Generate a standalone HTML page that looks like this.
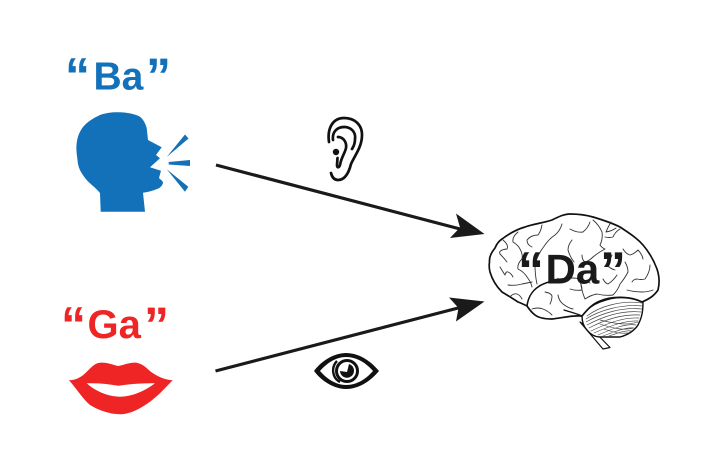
<!DOCTYPE html>
<html>
<head>
<meta charset="utf-8">
<style>
html,body{margin:0;padding:0;background:#fff;width:702px;height:462px;overflow:hidden}
svg{display:block}
text{font-family:"Liberation Sans",sans-serif;font-weight:bold}
</style>
</head>
<body>
<svg width="702" height="462" viewBox="0 0 702 462" xmlns="http://www.w3.org/2000/svg">
<!-- labels -->
<g fill="#1271b8">
<text x="93.5" y="89.5" font-size="39">Ba</text>
<text x="65" y="93" font-size="50">“</text>
<text x="146" y="93" font-size="50">”</text>
</g>
<g fill="#ee2524">
<text x="87.5" y="338" font-size="40">Ga</text>
<text x="61" y="342" font-size="50">“</text>
<text x="144" y="342" font-size="50">”</text>
</g>

<!-- head -->
<path fill="#1271b8" d="M100.7 211.7 L100 193 C95 187 90 184 86.7 180 C81 173 78 168 77.5 160 C76.5 152 76 148 76.7 143 C77.5 136 80 131 83 127 C88 121 94 118 100 115 C107 112.5 113 112 120 112.3 C128 112.5 135 114 140 116.7 C144 120 145.5 124 146.7 128 L148 140 L161.7 147.3 L156 155 L160 158.3 L150 167.3 L161 170.7 L159 178 C161 180 163 181 163 183 C162 186 160 188 157 189 C152 191 148 192 143 192.7 L145 211.7 Z"/>
<path fill="#1271b8" d="M166.7 157 L185 134.5 L188.5 138.5 Z M168.7 162 L190 160 L190 166 L168.7 164.5 Z M166.7 169.3 L188.3 186.7 L185 191.7 Z"/>

<!-- lips -->
<path fill="#ee2524" fill-rule="evenodd" d="M69 380.3 C76 380 79 378 83.3 375 C90 369 94 363 100 362.7 C107 362 113 365 118.3 366 C124 365 130 362 136.7 362.7 C144 364 148 370 153 373.3 C159 377 165 380 172.7 380.3 C165 388 158 396 150 401.7 C140 409 130 414 120 414.3 C110 414 100 411 90 405 C82 398 76 388 69 380.3 Z M86.7 383.3 C98 383 108 384 118.3 385.7 C130 384 143 383 155 383.3 C145 391 132 396.7 120 396.7 C108 396.7 95 391 86.7 383.3 Z"/>

<!-- arrows -->
<line x1="216" y1="165" x2="462" y2="229.5" stroke="#1a1a1a" stroke-width="3.2"/>
<path fill="#1a1a1a" d="M484.5 234 L456 213.5 L460 227.5 L450 238 Z"/>
<line x1="215.5" y1="371" x2="462" y2="307" stroke="#1a1a1a" stroke-width="3.2"/>
<path fill="#1a1a1a" d="M484.5 301.5 L449 297.5 L458.5 308 L456 321.5 Z"/>

<!-- ear -->
<g fill="none" stroke="#111" stroke-width="2.7" stroke-linecap="round" stroke-linejoin="round">
<path d="M329 142 C327 128 333 118 344 118 C355 118 362 125 362 135 C362 147 355 155 351 164 C349 172 345 180 338 180 C334 180 332 177 331 173"/>
<path d="M333 140 C332 132 337 127 344 127 C351 127 356 132 355 139 C355 143 354 146 352 149"/>
<path d="M338 137 C343 137 347 142 346 148 C345 153 341 158 340 165 C339 168 337 168 337 165 L337.5 158"/>
</g>
<circle cx="336" cy="152" r="3.2" fill="#111"/>

<!-- eye -->
<path fill="#111" fill-rule="evenodd" d="M314 371 C322 360 335 353 346 353 C358 353 370 360 379 371 C370 382 358 389 346 389 C335 389 322 382 314 371 Z M320 371 C327 379 336 385 346 385 C357 385 366 379 373 371 C366 363 357 357 346 357 C336 357 327 363 320 371 Z"/>
<path fill="none" stroke="#111" stroke-width="2.4" d="M337 361 C331 367 332 378 340 382"/>
<circle cx="347" cy="371" r="10.5" fill="none" stroke="#111" stroke-width="3"/>
<path fill="#111" d="M349 364 A7 7 0 1 1 340 371 L347 372 Z"/>

<!-- brain -->
<g fill="none" stroke-linecap="round" stroke-linejoin="round">
<path fill="#fff" stroke="#111" stroke-width="1.2" d="M580 322 L603 349 L610 347.5 L594 331 Z"/>
<path fill="#fff" stroke="#111" stroke-width="1.4" d="M582 316 C582 322 584 327 587 330 C591 335 596 337 600 337 L620 337 C628 335 635 330 638 325 C641 319 643 314 643 302 C630 296 615 296 600 302 C592 305 586 310 582 316 Z"/>
<path fill="#fff" stroke="#111" stroke-width="1.7" d="M489.5 262 C489 256 492 252 495 248 C497 243 499 241 502 239 C510 233 518 229 525 227 C533 224 543 223 552 220 C558 217 564 214 570 214 C578 214 586 215 593 217 C603 220 612 223 620 227 C629 233 637 238 643 245 C649 252 654 261 657 269 C659 275 660 282 658 290 C654 296 649 299 642 302 C630 296 612 296 600 301 C592 304 587 310 582 316 C572 315 562 318 552 319 C545 319 539 318 535 315 C531 312 529 309 527 306 C523 304 521 303 518 302 C512 298 507 295 502 292 C496 286 492 279 490 272 C489 268 489 265 489.5 262 Z"/>
<path stroke="#111" stroke-width="1.6" d="M527 306 C528 298 532 291 538 287 C543 283 550 282 558 279"/>
<path stroke="#111" stroke-width="1.3" d="M582 316 C575 313 570 312 564 310"/>
<path stroke="#333" stroke-width="0.9" d="M503 240 Q509 245 507 249 Q498 250 500 254 Q504 258 507 262 M518 232 Q512 237 513 242 Q518 245 520 249 Q523 254 522 259 Q517 264 518 269 Q524 272 527 277 Q531 282 532 287 M500 267 Q503 272 505 275 Q506 271 508 272 Q511 273 513 277 M508 285 Q515 286 522 284 Q527 283 532 282 M510 297 Q513 293 517 294 Q520 295 522 299 M542 225 Q541 231 538 235 Q531 235 527 240 Q527 245 532 247 M562 224 Q560 231 555 235 Q549 239 545 245 Q537 255 535 265 Q535 275 537 284 M558 295 Q559 301 563 304 Q568 308 573 309 M532 309 Q538 307 543 309 Q548 311 552 315 M570 229 Q577 233 583 232 Q588 228 590 222 M593 220 Q599 225 602 232 Q603 239 600 245 Q602 248 605 249 M620 229 Q615 232 613 237 Q609 238 605 237 M582 255 Q582 260 585 262 Q589 261 593 257 Q599 252 605 249 M623 249 Q626 254 630 255 Q634 254 638 250 Q642 254 643 259 M632 282 Q634 279 637 279 Q641 280 645 279 Q650 272 650 265 M580 277 Q581 290 585 299 Q591 295 597 294 Q605 296 613 295 Q618 290 620 284 Q625 278 628 272 Q628 267 625 262 M603 279 Q605 283 608 284 Q613 281 617 275 M570 289 Q576 291 582 290 Q582 286 580 282 M627 290 Q634 292 642 292 Q648 292 653 290 M558 279 C570 278 578 276 590 283 M545 292 Q551 293 552 296 Q552 300 550 304 M611 222 Q608 227 606 232 Q612 231 616 228 M572 240 Q568 245 568 250 Q570 257 574 262 M612 255 Q609 261 608 266 Q611 269 615 270"/>
<path stroke="#444" stroke-width="0.65" d="M587 316 C600 306 622 300 642 303 M586 319 C600 310 622 304 642 306 M586 322 C602 313 622 307 642 309 M587 325 C604 316 622 310 641 312 M589 328 C606 319 624 314 640 315 M591 331 C608 323 624 317 639 318 M594 333 C610 326 626 320 638 321 M598 335 C612 329 626 323 636 325 M603 336 C614 332 626 327 634 328 M609 336 C618 333 626 330 631 331 M600 320 C612 323 626 326 638 322 M600 324 C612 328 624 331 634 328 M604 329 C612 332 620 334 628 333"/>
</g>
<g fill="#1a1a1a">
<text x="545.5" y="283.5" font-size="42">Da</text>
<text x="518" y="288" font-size="52">“</text>
<text x="600" y="288" font-size="52">”</text>
</g>
</svg>
</body>
</html>
